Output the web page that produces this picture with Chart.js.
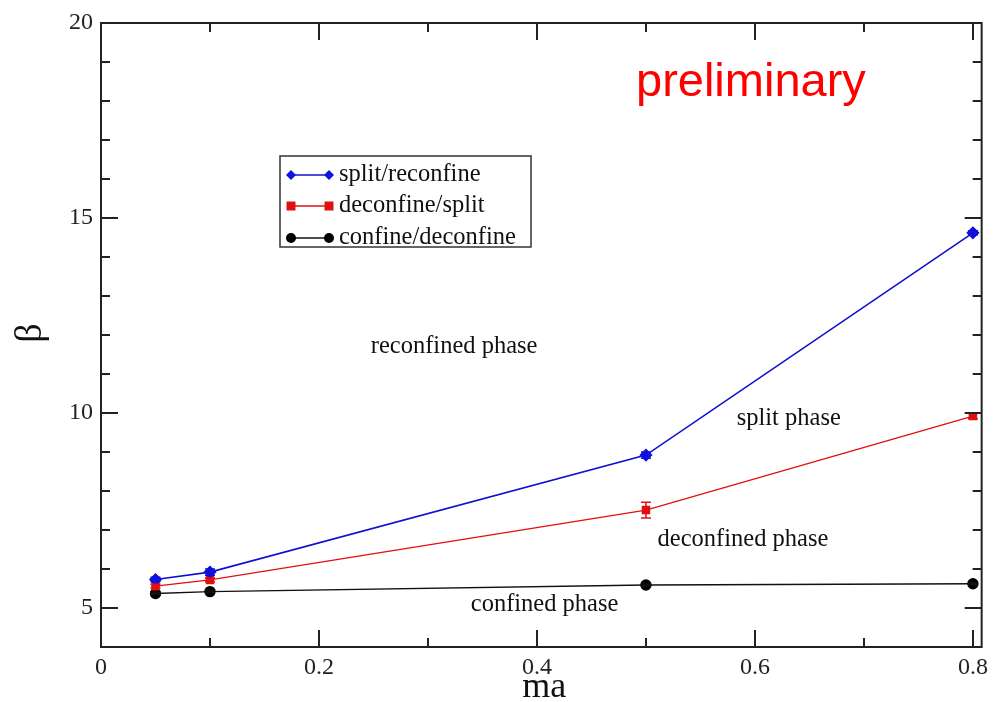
<!DOCTYPE html>
<html>
<head>
<meta charset="utf-8">
<script src="https://cdn.jsdelivr.net/npm/chart.js@4/dist/chart.umd.min.js"></script>
<style>
  html, body { margin: 0; padding: 0; background: #fff; }
  #wrap { width: 994px; height: 702px; }
</style>
</head>
<body>
<div id="wrap"><canvas id="phaseChart" width="994" height="702"></canvas></div>
<script>
// ===== Data =====
const maValues = [0.05, 0.1, 0.5, 0.8];

const splitReconfine = [5.73, 5.92, 8.92, 14.62];
const splitReconfineErr = [0.06, 0.08, 0.08, 0.05];

const deconfineSplit = [5.56, 5.72, 7.51, 9.92];
const deconfineSplitErr = [0.05, 0.05, 0.2, 0.07];

const confineDeconfine = [5.37, 5.42, 5.59, 5.62];
const confineDeconfineErr = [0.02, 0.02, 0.02, 0.02];

const xTicks = [0, 0.2, 0.4, 0.6, 0.8];
const yTicks = [5, 10, 15, 20];

const phaseLabels = [
  { text: "reconfined phase", x: 0.324, y: 11.7 },
  { text: "split phase", x: 0.631, y: 9.85 },
  { text: "deconfined phase", x: 0.589, y: 6.75 },
  { text: "confined phase", x: 0.407, y: 5.1 }
];

const serif = '"Liberation Serif", "DejaVu Serif", serif';

function points(ys, errs) {
  return maValues.map((x, i) => ({ x: x, y: ys[i], err: errs[i] }));
}

// ===== Frame, inward ticks, error bars, legend, labels =====
const decorPlugin = {
  id: 'decor',
  afterDatasetsDraw(chart) {
    const c = chart.ctx;
    const xs = chart.scales.x, ys = chart.scales.y;
    const a = chart.chartArea;

    // error bars
    chart.data.datasets.forEach((ds) => {
      c.save();
      c.strokeStyle = ds.borderColor;
      c.lineWidth = 1.5;
      ds.data.forEach((p) => {
        const px = xs.getPixelForValue(p.x);
        const top = ys.getPixelForValue(p.y + p.err);
        const bot = ys.getPixelForValue(p.y - p.err);
        c.beginPath();
        c.moveTo(px, top); c.lineTo(px, bot);
        c.moveTo(px - 5, top); c.lineTo(px + 5, top);
        c.moveTo(px - 5, bot); c.lineTo(px + 5, bot);
        c.stroke();
      });
      c.restore();
    });

    c.save();
    c.strokeStyle = '#222';
    c.lineWidth = 2;
    c.strokeRect(a.left, a.top, a.right - a.left, a.bottom - a.top);

    c.beginPath();
    // x ticks: major every 0.2, minor every 0.1
    for (let i = 1; i <= 8; i++) {
      const v = i / 10;
      const len = (i % 2 === 0) ? 17 : 9;
      const px = Math.round(xs.getPixelForValue(v));
      c.moveTo(px, a.bottom); c.lineTo(px, a.bottom - len);
      c.moveTo(px, a.top); c.lineTo(px, a.top + len);
    }
    // y ticks: major every 5, minor every 1
    for (let v = 5; v < 20; v++) {
      const len = (v % 5 === 0) ? 17 : 9;
      const py = Math.round(ys.getPixelForValue(v));
      c.moveTo(a.left, py); c.lineTo(a.left + len, py);
      c.moveTo(a.right, py); c.lineTo(a.right - len, py);
    }
    c.stroke();

    // axis titles
    c.fillStyle = '#111';
    c.font = '36px ' + serif;
    c.textAlign = 'center';
    c.textBaseline = 'alphabetic';
    c.fillText('ma', (a.left + a.right) / 2 + 3, 697);
    c.save();
    c.translate(41, 333);
    c.rotate(-Math.PI / 2);
    c.font = '38px ' + serif;
    c.fillText('β', 0, 0);
    c.restore();

    // phase labels
    c.font = '24.5px ' + serif;
    c.textBaseline = 'middle';
    phaseLabels.forEach((l) => {
      c.fillText(l.text, xs.getPixelForValue(l.x), ys.getPixelForValue(l.y));
    });

    // preliminary
    c.fillStyle = '#ff0000';
    c.font = '47px "Liberation Sans", Arial, sans-serif';
    c.textAlign = 'left';
    c.textBaseline = 'alphabetic';
    c.fillText('preliminary', 636, 96);

    // legend box
    c.strokeStyle = '#333';
    c.lineWidth = 1.5;
    c.strokeRect(280, 156, 251, 91);
    const rows = [175, 206, 238];
    c.font = '24.5px ' + serif;
    c.textBaseline = 'middle';
    chart.data.datasets.forEach((ds, i) => {
      const y = rows[i];
      c.strokeStyle = ds.borderColor;
      c.lineWidth = ds.borderWidth;
      c.beginPath();
      c.moveTo(291, y); c.lineTo(329, y);
      c.stroke();
      [291, 329].forEach((x) => {
        c.fillStyle = ds.pointBackgroundColor;
        c.beginPath();
        if (ds.pointStyle === 'rectRot') {
          c.moveTo(x, y - 5); c.lineTo(x + 5, y); c.lineTo(x, y + 5); c.lineTo(x - 5, y);
          c.closePath();
        } else if (ds.pointStyle === 'rect') {
          c.rect(x - 4.5, y - 4.5, 9, 9);
        } else {
          c.arc(x, y, 5, 0, Math.PI * 2);
        }
        c.fill();
      });
      c.fillStyle = '#111';
      c.fillText(ds.label, 339, y);
    });
    c.restore();
  }
};

const ctx = document.getElementById('phaseChart').getContext('2d');
const phaseChart = new Chart(ctx, {
  type: 'scatter',
  data: {
    datasets: [{
      label: 'split/reconfine',
      data: points(splitReconfine, splitReconfineErr),
      borderColor: '#1010d0',
      pointBackgroundColor: '#1010e0',
      pointBorderColor: '#1010e0',
      pointStyle: 'rectRot',
      pointRadius: 5.5,
      borderWidth: 1.6,
      showLine: true
    }, {
      label: 'deconfine/split',
      data: points(deconfineSplit, deconfineSplitErr),
      borderColor: '#e01010',
      pointBackgroundColor: '#e01010',
      pointBorderColor: '#e01010',
      pointStyle: 'rect',
      pointRadius: 5,
      borderWidth: 1.4,
      showLine: true
    }, {
      label: 'confine/deconfine',
      data: points(confineDeconfine, confineDeconfineErr),
      borderColor: '#111',
      pointBackgroundColor: '#000',
      pointBorderColor: '#000',
      pointStyle: 'circle',
      pointRadius: 5,
      borderWidth: 1.4,
      showLine: true
    }]
  },
  options: {
    responsive: false,
    animation: false,
    layout: { padding: { top: 23, right: 7, left: 0, bottom: 0 } },
    plugins: { legend: { display: false }, tooltip: { enabled: false } },
    scales: {
      x: {
        type: 'linear', min: 0, max: 0.808,
        grid: { display: false, drawTicks: false },
        border: { display: false },
        afterBuildTicks: (s) => { s.ticks = xTicks.map((v) => ({ value: v })); },
        afterFit: (s) => { s.height = 55; },
        ticks: {
          padding: 6,
          color: '#222',
          font: { family: serif, size: 24 },
          maxRotation: 0,
          callback: (v) => String(v)
        }
      },
      y: {
        type: 'linear', min: 4, max: 20,
        grid: { display: false, drawTicks: false },
        border: { display: false },
        afterBuildTicks: (s) => { s.ticks = yTicks.map((v) => ({ value: v })); },
        afterFit: (s) => { s.width = 101; },
        ticks: {
          padding: 8,
          color: '#222',
          font: { family: serif, size: 24 },
          callback: (v) => String(v)
        }
      }
    }
  },
  plugins: [decorPlugin]
});
</script>
</body>
</html>
